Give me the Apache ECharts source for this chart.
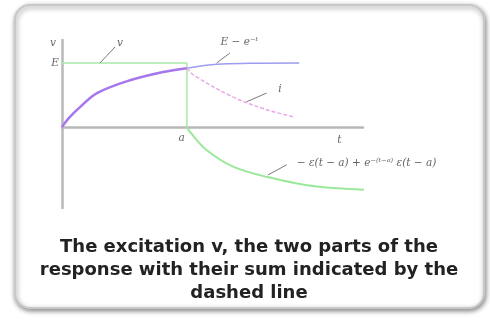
<!DOCTYPE html>
<html>
<head>
<meta charset="utf-8">
<script src="https://cdn.jsdelivr.net/npm/echarts@6/dist/echarts.min.js"></script>
<style>
  html, body { margin: 0; padding: 0; background: #ffffff; }
  #chart { width: 490px; height: 320px; }
</style>
</head>
<body>
<div id="chart"></div>
<script>
// Step excitation of height E lasting from t = 0 to t = a (a = 1), and the two response parts.
var excitation = [[0, 1], [1, 1], [1, 0]];
var riseFirst = [[0, 0], [0.06, 0.15], [0.144, 0.31], [0.28, 0.53], [0.544, 0.73], [0.81, 0.86], [1, 0.92]];
var riseLater = [[1, 0.92], [1.24, 0.98], [1.5, 0.995], [1.9, 1.0]];
var secondPart = [[1, 0], [1.03, -0.09], [1.157, -0.36], [1.37, -0.62], [1.64, -0.78], [2.04, -0.93], [2.68, -1.0]];
var sumCurve = [[1, 0.92], [1.056, 0.81], [1.368, 0.47], [1.64, 0.27], [1.85, 0.16]];

// Pointer lines: [from, to] in (t, v)
var pointers = [
  [[0.304, 1.0], [0.424, 1.25]],
  [[1.238, 1.0], [1.344, 1.156]],
  [[1.478, 0.395], [1.638, 0.53]],
  [[1.648, -0.75], [1.8, -0.59]]
];
// Text labels: [t, v, text, align]
var labels = [
  [0.464, 1.31, 'v', 'center'],
  [1.42, 1.33, 'E − e⁻ᵗ', 'center'],
  [1.744, 0.59, 'i', 'center'],
  [1.88, -0.56, '− ε(t − a) + e⁻⁽ᵗ⁻ᵃ⁾ ε(t − a)', 'left'],
  [-0.072, 1.31, 'v', 'center'],
  [-0.056, 1.0, 'E', 'center'],
  [0.958, -0.17, 'a', 'center'],
  [2.22, -0.2, 't', 'center']
];
var caption = 'The excitation v, the two parts of the\nresponse with their sum indicated by the\ndashed line';

var chart = echarts.init(document.getElementById('chart'), null, { renderer: 'canvas' });

var option = {
  backgroundColor: '#ffffff',
  animation: false,
  graphic: [{
    type: 'rect',
    z: -10,
    shape: { x: 15, y: 5, width: 469, height: 303, r: 15 },
    style: {
      fill: '#ffffff',
      stroke: '#c8c8c8',
      lineWidth: 2,
      shadowBlur: 5,
      shadowOffsetX: 1,
      shadowOffsetY: 2,
      shadowColor: 'rgba(0,0,0,0.45)'
    }
  }, {
    type: 'text',
    z: 10,
    x: 249,
    y: 236,
    style: {
      text: caption,
      align: 'center',
      verticalAlign: 'top',
      font: 'bold 18px "DejaVu Sans"',
      lineHeight: 23,
      fill: '#222222'
    }
  }],
  grid: { left: 62, right: 127, top: 40, bottom: 112 },
  xAxis: {
    type: 'value', min: 0, max: 2.41,
    axisLine: { onZero: true, lineStyle: { color: '#b8b8b8', width: 2.5 } },
    axisTick: { show: false }, axisLabel: { show: false }, splitLine: { show: false }
  },
  yAxis: {
    type: 'value', min: -1.266, max: 1.36,
    axisLine: { show: true, lineStyle: { color: '#b8b8b8', width: 2.5 } },
    axisTick: { show: false }, axisLabel: { show: false }, splitLine: { show: false }
  },
  series: [
    {
      name: 'excitation', type: 'line', data: excitation, symbol: 'none',
      lineStyle: { color: '#a6eaa6', width: 1.5 }, z: 3
    },
    {
      name: 'secondPart', type: 'line', data: secondPart, symbol: 'none', smooth: 0.35,
      clip: false,
      lineStyle: { color: '#9be89b', width: 2 }, z: 3
    },
    {
      name: 'riseFirst', type: 'line', data: riseFirst, symbol: 'none', smooth: 0.35,
      lineStyle: { color: '#a676ec', width: 2.5 }, z: 4
    },
    {
      name: 'riseLater', type: 'line', data: riseLater, symbol: 'none', smooth: 0.35,
      lineStyle: { color: '#9c9cf0', width: 1.5 }, z: 4
    },
    {
      name: 'sum', type: 'line', data: sumCurve, symbol: 'none', smooth: 0.35,
      lineStyle: { color: '#eaa8ea', width: 1.5, type: [4, 2] }, z: 4
    },
    {
      name: 'pointers', type: 'line', data: [], symbol: 'none',
      markLine: {
        silent: true, animation: false,
        symbol: ['circle', 'none'], symbolSize: [6, 0],
        lineStyle: { color: '#7a7a7a', width: 1, type: 'solid' },
        itemStyle: { color: '#4a4a4a' },
        label: { show: false },
        data: pointers.map(function (p) {
          return [{ coord: p[0] }, { coord: p[1] }];
        })
      }, z: 5
    },
    {
      name: 'labels', type: 'scatter', symbolSize: 0, clip: false, z: 6,
      data: labels.map(function (l) {
        return {
          value: [l[0], l[1]], name: l[2],
          label: { align: l[3] }
        };
      }),
      label: {
        show: true, position: 'inside',
        formatter: function (p) { return p.name; },
        fontFamily: 'DejaVu Serif', fontStyle: 'italic', fontSize: 10.5, color: '#3a3a3a'
      }
    }
  ]
};
chart.setOption(option);
</script>
</body>
</html>
